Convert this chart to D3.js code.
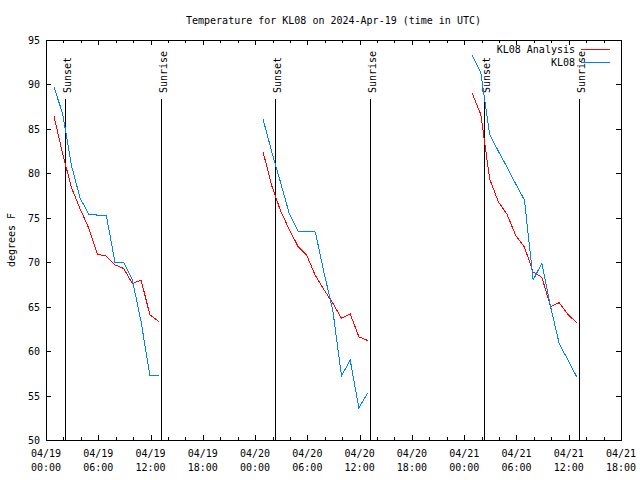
<!DOCTYPE html>
<html>
<head>
<meta charset="utf-8">
<script src="https://cdn.jsdelivr.net/npm/d3@7"></script>
<style>
  html, body { margin: 0; padding: 0; background: #fff; }
  svg { display: block; }
  text { font-family: "DejaVu Sans Mono", "Liberation Mono", monospace; font-size: 10px; fill: #000; }
</style>
</head>
<body>
<svg id="chart" width="640" height="480"></svg>
<script>
// ---------- data ----------
const title = "Temperature for KL08 on 2024-Apr-19 (time in UTC)";
const yLabel = "degrees F";
const seriesNames = ["KL08 Analysis", "KL08"];
const seriesColors = ["#ff0000", "#0080ff"];

const day1Times = ["2024-04-19T00:55","2024-04-19T01:55","2024-04-19T02:55","2024-04-19T03:55","2024-04-19T04:55","2024-04-19T05:55","2024-04-19T06:55","2024-04-19T07:55","2024-04-19T08:55","2024-04-19T09:55","2024-04-19T10:55","2024-04-19T11:55","2024-04-19T13:00"];
const day2Times = ["2024-04-20T00:55","2024-04-20T01:55","2024-04-20T02:55","2024-04-20T03:55","2024-04-20T04:55","2024-04-20T05:55","2024-04-20T06:55","2024-04-20T07:55","2024-04-20T08:55","2024-04-20T09:55","2024-04-20T10:55","2024-04-20T11:55","2024-04-20T12:55"];
const day3Times = ["2024-04-21T00:55","2024-04-21T01:55","2024-04-21T02:55","2024-04-21T03:55","2024-04-21T04:55","2024-04-21T05:55","2024-04-21T06:55","2024-04-21T07:55","2024-04-21T08:55","2024-04-21T09:55","2024-04-21T10:55","2024-04-21T11:55","2024-04-21T12:55"];

const analysisDay1 = [86.4, 82.2, 78.4, 76.0, 73.8, 70.9, 70.7, 69.7, 69.3, 67.6, 68.0, 64.1, 63.3];
const analysisDay2 = [82.4, 78.6, 75.8, 73.7, 71.8, 70.8, 68.5, 66.9, 65.4, 63.7, 64.2, 61.6, 61.2];
const analysisDay3 = [89.0, 86.6, 79.4, 76.8, 75.4, 73.0, 71.7, 68.9, 68.3, 65.0, 65.45, 64.1, 63.2];

const kl08Day1 = [89.7, 86.7, 80.9, 77.2, 75.4, 75.3, 75.3, 70.0, 70.0, 68.0, 63.3, 57.3, 57.3];
const kl08Day2 = [86.1, 82.4, 79.0, 75.5, 73.5, 73.5, 73.4, 68.8, 64.6, 57.2, 59.0, 53.6, 55.3];
const kl08Day3 = [93.3, 91.3, 84.4, 82.5, 80.7, 78.8, 77.0, 68.0, 69.9, 65.0, 60.8, 59.0, 57.1];

const sunsetTimes  = ["2024-04-19T02:13", "2024-04-20T02:19", "2024-04-21T02:19"];
const sunriseTimes = ["2024-04-19T13:10", "2024-04-20T13:13", "2024-04-21T13:13"];

const xDomain = ["2024-04-19T00:00", "2024-04-21T18:00"];
const yDomain = [50, 95];
const yTicks = [50, 55, 60, 65, 70, 75, 80, 85, 90, 95];

// ---------- drawing ----------
const parse = s => new Date(s + ":00Z");
const svg = d3.select("#chart");
const L = 46, R = 621, T = 40, B = 440;

const x = d3.scaleUtc().domain(xDomain.map(parse)).range([L, R]);
const y = d3.scaleLinear().domain(yDomain).range([B, T]);

const fmtDate = d3.utcFormat("%m/%d");
const fmtTime = d3.utcFormat("%H:%M");

const majorTicks = x.ticks(d3.utcHour.every(6));
const minorTicks = x.ticks(d3.utcHour.every(2)).filter(t => t.getUTCHours() % 6 !== 0);

const g = svg.append("g");

// title
g.append("text").attr("x", 333.5).attr("y", 24).attr("text-anchor", "middle").text(title);

// y axis label
g.append("text")
  .attr("transform", "translate(15,240) rotate(-90)")
  .attr("text-anchor", "middle").text(yLabel);

// y ticks (left and mirrored right)
const yt = g.append("g").attr("shape-rendering", "crispEdges");
yTicks.forEach(v => {
  const yy = Math.round(y(v)) + 0.5;
  yt.append("line").attr("x1", L).attr("x2", L + 5).attr("y1", yy).attr("y2", yy).attr("stroke", "#000");
  yt.append("line").attr("x1", R - 5).attr("x2", R).attr("y1", yy).attr("y2", yy).attr("stroke", "#000");
  g.append("text").attr("x", 40).attr("y", y(v) + 4).attr("text-anchor", "end").text(v);
});

// x ticks
const xt = g.append("g").attr("shape-rendering", "crispEdges");
majorTicks.forEach(t => {
  const xx = Math.round(x(t)) + 0.5;
  xt.append("line").attr("x1", xx).attr("x2", xx).attr("y1", B).attr("y2", B - 5).attr("stroke", "#000");
  xt.append("line").attr("x1", xx).attr("x2", xx).attr("y1", T).attr("y2", T + 5).attr("stroke", "#000");
  const lab = g.append("text").attr("text-anchor", "middle");
  lab.append("tspan").attr("x", x(t)).attr("y", 457).text(fmtDate(t));
  lab.append("tspan").attr("x", x(t)).attr("y", 471).text(fmtTime(t));
});
minorTicks.forEach(t => {
  const xx = Math.round(x(t)) + 0.5;
  xt.append("line").attr("x1", xx).attr("x2", xx).attr("y1", B).attr("y2", B - 3).attr("stroke", "#000");
  xt.append("line").attr("x1", xx).attr("x2", xx).attr("y1", T).attr("y2", T + 3).attr("stroke", "#000");
});

// sunset / sunrise lines
const sunEvents = sunsetTimes.map(s => ({t: s, label: "Sunset"}))
  .concat(sunriseTimes.map(s => ({t: s, label: "Sunrise"})));
sunEvents.forEach(e => {
  const xx = Math.round(x(parse(e.t))) + 0.5;
  g.append("line").attr("x1", xx).attr("x2", xx).attr("y1", 99).attr("y2", B)
    .attr("stroke", "#000").attr("shape-rendering", "crispEdges");
  g.append("text")
    .attr("transform", `translate(${xx + 5},93) rotate(-90)`)
    .attr("text-anchor", "start").text(e.label);
});

// data lines
const line = d3.line().x(d => x(d.t)).y(d => y(d.v));
const mk = (times, vals) => times.map((s, i) => ({t: parse(s), v: vals[i]}));
const analysisSegs = [mk(day1Times, analysisDay1), mk(day2Times, analysisDay2), mk(day3Times, analysisDay3)];
const kl08Segs = [mk(day1Times, kl08Day1), mk(day2Times, kl08Day2), mk(day3Times, kl08Day3)];

[analysisSegs, kl08Segs].forEach((segs, si) => {
  segs.forEach(seg => {
    g.append("path").attr("d", line(seg)).attr("fill", "none")
      .attr("stroke", seriesColors[si]).attr("stroke-width", 1)
      .attr("shape-rendering", "crispEdges");
  });
});

// border
g.append("rect").attr("x", L + 0.5).attr("y", T + 0.5).attr("width", R - L).attr("height", B - T)
  .attr("fill", "none").attr("stroke", "#000").attr("shape-rendering", "crispEdges");

// legend
seriesNames.forEach((name, i) => {
  const ly = 49 + i * 13;
  g.append("text").attr("x", 575).attr("y", ly + 4).attr("text-anchor", "end").text(name);
  g.append("line").attr("x1", 581).attr("x2", 610).attr("y1", ly + 0.5).attr("y2", ly + 0.5)
    .attr("stroke", seriesColors[i]).attr("shape-rendering", "crispEdges");
});
</script>
</body>
</html>
